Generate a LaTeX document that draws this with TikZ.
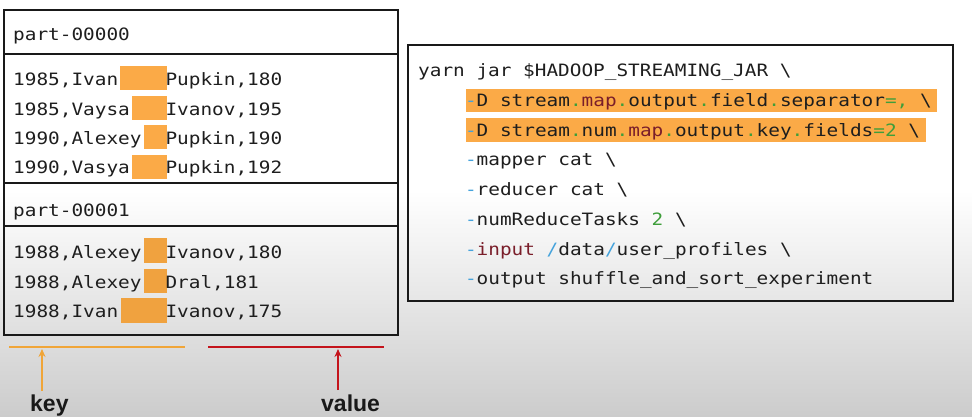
\documentclass[tikz,border=0pt]{standalone}
\usepackage{fontspec}
\usetikzlibrary{arrows.meta}
\newfontfamily\cmono[FakeStretch=1.14]{DejaVu Sans Mono}
\newfontfamily\lblfont{Liberation Sans}
\definecolor{hlorange}{HTML}{FBAA47}
\definecolor{hlorangeb}{HTML}{F0A23F}
\definecolor{keyorange}{HTML}{F0A538}
\definecolor{valred}{HTML}{C4141C}
\definecolor{dashblue}{HTML}{45A3DC}
\definecolor{dotgreen}{HTML}{3E9E3A}
\definecolor{wordred}{HTML}{7A1E2A}
\definecolor{txt}{HTML}{1E1E1E}
\newcommand{\colB}[1]{\textcolor{dashblue}{#1}}
\newcommand{\colG}[1]{\textcolor{dotgreen}{#1}}
\newcommand{\colM}[1]{\textcolor{wordred}{#1}}
\frenchspacing
\tikzset{
  mono/.style={inner sep=0pt, anchor=base west, text=txt, font=\cmono\fontsize{17}{17}\selectfont},
  boxline/.style={line width=2.2pt, draw=black!90},
  hl/.style={fill=hlorange},
  hlb/.style={fill=hlorangeb},
  lbl/.style={inner sep=0pt, anchor=base west, text=black!90, font=\lblfont\bfseries\fontsize{23}{23}\selectfont},
  keyline/.style={draw=keyorange, line width=2.4pt},
  valline/.style={draw=valred, line width=2.4pt},
  keyarrow/.style={draw=keyorange, line width=2pt, -{Stealth[length=8pt,width=7pt]}},
  valarrow/.style={draw=valred, line width=2pt, -{Stealth[length=8pt,width=7pt]}}
}
\begin{document}
\begin{tikzpicture}[x=1pt,y=-1pt]
\useasboundingbox (0,0) rectangle (972,417);
\fill[white] (0,0) rectangle (972,417);
\shade[top color=white, bottom color=black!20] (0,190) rectangle (972,417);

% left file boxes
\draw[boxline] (4,10) rectangle (398,335);
\draw[boxline] (4,54) -- (398,54);
\draw[boxline] (4,183) -- (398,183);
\draw[boxline] (4,226) -- (398,226);

% orange separators (tabs)
\fill[hl] (120,66) rectangle (167,90);
\fill[hl] (132,96) rectangle (167,120);
\fill[hl] (144,125) rectangle (167,149);
\fill[hl] (132,155) rectangle (167,179);
\fill[hlb] (144,238) rectangle (167,263);
\fill[hlb] (144,269) rectangle (167,293);
\fill[hlb] (121,298) rectangle (167,323);

\node[mono] (p0) at (13,41) {part-00000};
\node[mono] (k1) at (13,86) {1985,Ivan};
\node[mono] (v1) at (165.3,86) {Pupkin,180};
\node[mono] (k2) at (13,115.5) {1985,Vaysa};
\node[mono] (v2) at (165.3,115.5) {Ivanov,195};
\node[mono] (k3) at (13,145) {1990,Alexey};
\node[mono] (v3) at (165.3,145) {Pupkin,190};
\node[mono] (k4) at (13,174) {1990,Vasya};
\node[mono] (v4) at (165.3,174) {Pupkin,192};

\node[mono] (p1) at (13,216) {part-00001};
\node[mono] (k5) at (13,258) {1988,Alexey};
\node[mono] (v5) at (165.3,258) {Ivanov,180};
\node[mono] (k6) at (13,288) {1988,Alexey};
\node[mono] (v6) at (165.3,288) {Dral,181};
\node[mono] (k7) at (13,317) {1988,Ivan};
\node[mono] (v7) at (165.3,317) {Ivanov,175};

% code box
\draw[boxline] (408,45) rectangle (953,301);
\fill[hl] (466,89) rectangle (937,112);
\fill[hl] (466,118) rectangle (926,142);
\node[mono] (c1) at (418,77) {yarn jar \$HADOOP\_STREAMING\_JAR \textbackslash};
\node[mono] (c2) at (464.8,106.7) {\colB{-}D stream\colG{.}\colM{map}\colG{.}output\colG{.}field\colG{.}separator\colG{=,} \textbackslash};
\node[mono] (c3) at (464.8,136.3) {\colB{-}D stream\colG{.}num\colG{.}\colM{map}\colG{.}output\colG{.}key\colG{.}fields\colG{=2} \textbackslash};
\node[mono] (c4) at (464.8,166) {\colB{-}mapper cat \textbackslash};
\node[mono] (c5) at (464.8,195.7) {\colB{-}reducer cat \textbackslash};
\node[mono] (c6) at (464.8,225.4) {\colB{-}numReduceTasks \colG{2} \textbackslash};
\node[mono] (c7) at (464.8,255.1) {\colB{-}\colM{input} \colB{/}data\colB{/}user\_profiles \textbackslash};
\node[mono] (c8) at (464.8,284.8) {\colB{-}output shuffle\_and\_sort\_experiment};

% key / value markers
\coordinate (kl1) at (9,347);
\coordinate (kl2) at (185,347);
\coordinate (vl1) at (208,347);
\coordinate (vl2) at (384,347);
\coordinate (ka) at (42,391);
\coordinate (kb) at (42,349);
\coordinate (va) at (338,390);
\coordinate (vb) at (338,349);
\draw[keyline] (kl1) -- (kl2);
\draw[valline] (vl1) -- (vl2);
\draw[keyarrow] (ka) -- (kb);
\draw[valarrow] (va) -- (vb);
\node[lbl] (key) at (30,411) {key};
\node[lbl] (value) at (321,411) {value};
\end{tikzpicture}
\end{document}
